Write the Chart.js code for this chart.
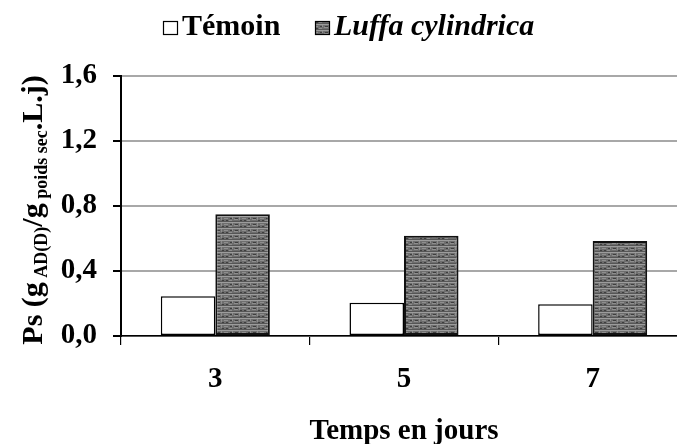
<!DOCTYPE html>
<html lang="fr">
<head>
<meta charset="utf-8">
<title>Ps - Témoin / Luffa cylindrica</title>
<script src="https://cdn.jsdelivr.net/npm/chart.js@4/dist/chart.umd.min.js"></script>
<style>
  html, body { margin: 0; padding: 0; background: #fff; overflow: hidden; }
  #wrap { width: 700px; height: 444px; }
</style>
</head>
<body>
<div id="wrap"><canvas id="psChart" width="700" height="444"></canvas></div>
<script>
(() => {
  'use strict';

  const days = ['3', '5', '7'];
  const temoin = [0.244, 0.204, 0.195];
  const luffa = [0.75, 0.617, 0.585];
  const yTicks = [0, 0.4, 0.8, 1.2, 1.6];

  const serif = "'Liberation Serif', 'Times New Roman', serif";
  const commaFmt = v => v.toFixed(1).replace('.', ',');

  // small grey "brick" tile used as the fill of the Luffa bars
  function brickPattern(ctx) {
    const tile = document.createElement('canvas');
    tile.width = 18;
    tile.height = 6;
    const g = tile.getContext('2d');
    g.fillStyle = '#6e6e6e';
    g.fillRect(0, 0, 18, 6);
    g.fillStyle = '#9c9c9c';
    g.fillRect(0, 0, 18, 1);
    g.fillStyle = '#8e8e8e';
    g.fillRect(0, 3, 4, 1);
    g.fillRect(8, 2, 4, 1);
    g.fillRect(5, 1, 1, 3);
    g.fillRect(13, 4, 3, 1);
    g.fillRect(16, 1, 1, 2);
    g.fillStyle = '#3e3e3e';
    g.fillRect(1, 2, 3, 1);
    g.fillRect(10, 4, 2, 1);
    g.fillRect(6, 4, 2, 1);
    g.fillRect(14, 2, 2, 1);
    g.fillStyle = '#565656';
    g.fillRect(0, 5, 18, 1);
    return ctx.createPattern(tile, 'repeat');
  }

  const canvas = document.getElementById('psChart');
  const ctx = canvas.getContext('2d');
  const pattern = brickPattern(ctx);

  // legend with one bold and one bold-italic entry
  const legendPlugin = {
    id: 'mixedLegend',
    afterDraw(chart) {
      const c = chart.ctx;
      const items = [
        { x: 163, font: 'bold 30px ' + serif, ds: chart.data.datasets[0] },
        { x: 315, font: 'italic bold 30px ' + serif, ds: chart.data.datasets[1] }
      ];
      c.save();
      items.forEach(it => {
        c.fillStyle = it.ds.backgroundColor;
        c.fillRect(it.x, 21, 15, 14);
        c.strokeStyle = '#000';
        c.lineWidth = 1.2;
        c.strokeRect(it.x + 0.5, 21.5, 14, 13);
        c.fillStyle = '#000';
        c.font = it.font;
        c.textBaseline = 'alphabetic';
        c.fillText(it.ds.label, it.x + 19, 35);
      });
      c.restore();
    }
  };

  // rotated y title with subscripts
  const yTitlePlugin = {
    id: 'yTitle',
    afterDraw(chart) {
      const c = chart.ctx;
      const big = 'bold 30px ' + serif;
      const small = 'bold 18px ' + serif;
      const parts = [
        { t: 'Ps (g', f: big, dy: 0 },
        { t: ' AD(D)', f: small, dy: 5 },
        { t: '/g', f: big, dy: 0 },
        { t: ' poids sec', f: small, dy: 5 },
        { t: '.L.j)', f: big, dy: 0 }
      ];
      c.save();
      let total = 0;
      parts.forEach(p => { c.font = p.f; p.w = c.measureText(p.t).width; total += p.w; });
      const area = chart.chartArea;
      c.translate(42, (area.top + area.bottom) / 2 + 4);
      c.rotate(-Math.PI / 2);
      c.fillStyle = '#000';
      c.textBaseline = 'alphabetic';
      let x = -total / 2;
      parts.forEach(p => {
        c.font = p.f;
        c.fillText(p.t, x, p.dy);
        x += p.w;
      });
      c.restore();
    }
  };

  new Chart(ctx, {
    type: 'bar',
    data: {
      labels: days,
      datasets: [
        {
          label: 'Témoin',
          data: temoin,
          backgroundColor: '#ffffff',
          borderColor: '#000000',
          borderWidth: 1.5,
          borderSkipped: false
        },
        {
          label: 'Luffa cylindrica',
          data: luffa,
          backgroundColor: pattern,
          borderColor: '#111111',
          borderWidth: 2,
          borderSkipped: false
        }
      ]
    },
    options: {
      responsive: false,
      animation: false,
      events: [],
      layout: { padding: { top: 76, right: 13, left: 0, bottom: 0 } },
      datasets: { bar: { categoryPercentage: 0.578, barPercentage: 1.0 } },
      plugins: {
        legend: { display: false },
        tooltip: { enabled: false }
      },
      scales: {
        x: {
          offset: true,
          afterFit: s => { s.height = 108; },
          grid: {
            offset: true,
            drawOnChartArea: false,
            color: '#000',
            tickLength: 9,
            lineWidth: 1.2
          },
          border: { color: '#000', width: 1.5 },
          ticks: {
            color: '#000',
            padding: 17,
            font: { family: serif, size: 29, weight: 'bold' }
          },
          title: {
            display: true,
            text: 'Temps en jours',
            color: '#000',
            padding: { top: 0, bottom: -5 },
            font: { family: serif, size: 29, weight: 'bold' }
          }
        },
        y: {
          min: 0,
          max: 1.6,
          afterFit: s => { s.width = 121; },
          afterBuildTicks: s => { s.ticks = yTicks.map(v => ({ value: v })); },
          grid: {
            color: '#a8a8a8',
            lineWidth: 2,
            tickColor: '#000',
            tickLength: 8
          },
          border: { color: '#000', width: 2 },
          ticks: {
            color: '#000',
            padding: 16,
            callback: v => commaFmt(v),
            font: { family: serif, size: 29, weight: 'bold' }
          }
        }
      }
    },
    plugins: [legendPlugin, yTitlePlugin]
  });
})();
</script>
</body>
</html>
